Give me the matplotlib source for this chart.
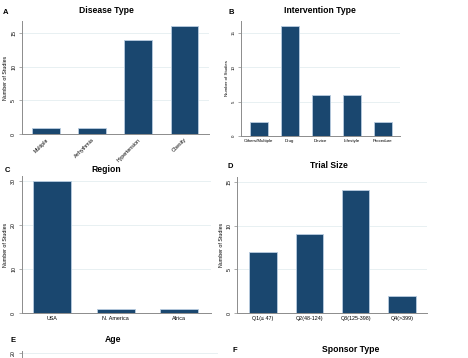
import matplotlib.pyplot as plt
import numpy as np

plt.rcParams['font.family'] = ['Liberation Sans', 'DejaVu Sans']

# data
disease_labels = ['Multiple', 'Arrhythmia', 'Hypertension', 'Obesity']
disease_counts = [1, 1, 14, 16]
interv_labels = ['Others/Multiple', 'Drug', 'Device', 'Lifestyle', 'Procedure']
interv_counts = [2, 16, 6, 6, 2]
region_labels = ['USA', 'N. America', 'Africa']
region_counts = [30, 1, 1]
size_labels = ['Q1(\u2264 47)', 'Q2(48-124)', 'Q3(125-398)', 'Q4(>399)']
size_counts = [7, 9, 14, 2]

W, H = 468, 358
navy = '#1a476f'
edge = '#b9cde0'
grid_c = '#e4eef0'
spine_c = '#8c8c8c'

fig = plt.figure(figsize=(W / 100, H / 100), dpi=100)


def px(l, t, r, b):
    # pixel box -> figure fraction
    return [l / W, 1 - b / H, (r - l) / W, (b - t) / H]


def style(ax, ticks, fs_y=3.8, fs_lab=3.8):
    for s in ['top', 'right']:
        ax.spines[s].set_visible(False)
    for s in ['left', 'bottom']:
        ax.spines[s].set_color(spine_c)
        ax.spines[s].set_linewidth(0.7)
    ax.set_yticks(ticks)
    ax.set_yticklabels([str(t) for t in ticks], rotation=90, va='center', fontsize=fs_y)
    ax.tick_params(axis='y', length=2.5, width=0.5, color=spine_c, pad=1.5)
    ax.tick_params(axis='x', length=0, pad=2)
    ax.yaxis.grid(True, color=grid_c, linewidth=0.6)
    ax.set_axisbelow(True)
    ax.set_ylabel('Number of Studies', fontsize=fs_lab, labelpad=2)


def bars(ax, labels, counts, width=0.6):
    x = np.arange(len(labels))
    ax.bar(x, counts, width=width, color=navy, edgecolor=edge, linewidth=0.6)
    ax.set_xticks(x)


# A
axA = fig.add_axes(px(21.7, 20.7, 209.3, 134.3))
bars(axA, disease_labels, disease_counts)
style(axA, [0, 5, 10, 15])
axA.set_xticklabels(disease_labels, rotation=45, ha='right', rotation_mode='anchor', fontsize=3.8)
axA.set_xlim(-0.53, 3.54)
axA.set_ylim(0, 16.8)

# B
axB = fig.add_axes(px(241, 20.7, 400, 136))
bars(axB, interv_labels, interv_counts, width=0.59)
style(axB, [0, 5, 10, 15], fs_y=3.2, fs_lab=3.2)
axB.set_xticklabels(interv_labels, fontsize=3.2)
axB.set_xlim(-0.57, 4.56)
axB.set_ylim(0, 16.8)

# C
axC = fig.add_axes(px(21.7, 176, 210.7, 313.3))
bars(axC, region_labels, region_counts)
style(axC, [0, 10, 20, 30])
axC.set_xticklabels(region_labels, fontsize=3.9)
axC.set_xlim(-0.48, 2.5)
axC.set_ylim(0, 31.2)

# D
axD = fig.add_axes(px(237.3, 177.3, 426.7, 313.3))
bars(axD, size_labels, size_counts, width=0.59)
style(axD, [0, 5, 10, 15])
axD.set_xticklabels(size_labels, fontsize=3.9)
axD.set_xlim(-0.555, 3.53)
axD.set_ylim(0, 15.5)

# E (only the top edge is inside the picture)
axE = fig.add_axes(px(21.7, 350.7, 218, 487))
style(axE, [20])
axE.set_xticks([])
axE.set_ylabel('')
axE.set_ylim(0, 20.35)

# titles and panel letters
titles = [('Disease Type', 106, 10.7), ('Intervention Type', 319.7, 10.7),
          ('Region', 105.7, 169), ('Trial Size', 329, 165.3),
          ('Age', 113, 339), ('Sponsor Type', 351, 350)]
for t, x, y in titles:
    fig.text(x / W, 1 - y / H, t, fontsize=6.2, fontweight='bold', ha='center', va='center')

letters = [('A', 6, 13), ('B', 231, 12), ('C', 7, 170), ('D', 230, 167),
           ('E', 12.7, 341), ('F', 235, 350)]
for t, x, y in letters:
    fig.text(x / W, 1 - y / H, t, fontsize=5.5, fontweight='bold', ha='center', va='center')

fig.savefig('out.png', dpi=100)
